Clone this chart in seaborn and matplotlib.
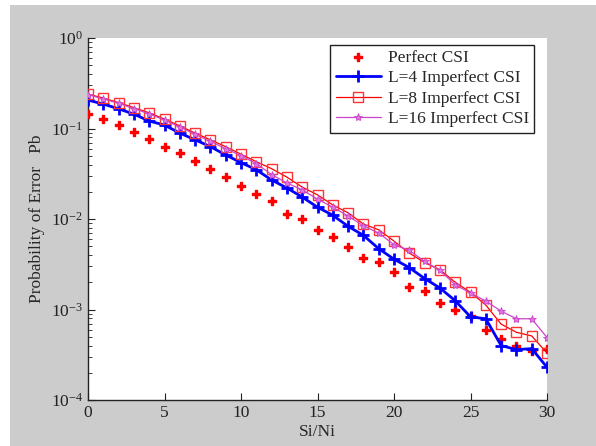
import numpy as np
import pandas as pd
import matplotlib
matplotlib.use("Agg")
import matplotlib.pyplot as plt
from matplotlib.patches import Rectangle
import seaborn as sns

snr = list(range(0, 31))
perfect = [0.145, 0.127, 0.109, 0.091, 0.076, 0.063, 0.054, 0.044, 0.036, 0.029,
           0.023, 0.019, 0.0158, 0.0114, 0.0100, 0.0076, 0.0063, 0.0049, 0.0037, 0.00335,
           0.0026, 0.00178, 0.00160, 0.00117, 0.00098, 0.00085, 0.00059, 0.00047, 0.00040, 0.00035,
           0.00037]
l4 = [0.206, 0.186, 0.165, 0.144, 0.121, 0.109, 0.089, 0.075, 0.063, 0.051,
      0.042, 0.035, 0.027, 0.022, 0.0175, 0.0135, 0.011, 0.0083, 0.0066, 0.0047,
      0.0036, 0.0029, 0.0022, 0.00173, 0.00125, 0.00083, 0.00079, 0.00040, 0.00036, 0.00037,
      0.00023]
l8 = [0.240, 0.217, 0.193, 0.170, 0.149, 0.127, 0.107, 0.089, 0.075, 0.063,
      0.052, 0.043, 0.036, 0.029, 0.0225, 0.0185, 0.0143, 0.0117, 0.0088, 0.0076,
      0.0057, 0.0042, 0.0033, 0.00275, 0.0020, 0.00155, 0.00112, 0.00069, 0.00056, 0.00051,
      0.00033]
l16 = [0.237, 0.212, 0.190, 0.166, 0.145, 0.124, 0.104, 0.086, 0.072, 0.060,
       0.050, 0.041, 0.031, 0.025, 0.021, 0.0166, 0.0135, 0.0108, 0.0084, 0.0070,
       0.0052, 0.0045, 0.0034, 0.0027, 0.00188, 0.00152, 0.00124, 0.00096, 0.00079, 0.00079,
       0.00049]

sns.set_style("ticks")
plt.rcParams['font.family'] = ['Liberation Serif', 'DejaVu Serif']
plt.rcParams['mathtext.fontset'] = 'custom'
plt.rcParams['mathtext.rm'] = 'Liberation Serif'
plt.rcParams['mathtext.it'] = 'Liberation Serif:italic'

fig = plt.figure(figsize=(5.96, 4.46), dpi=100)
fig.patch.set_facecolor('white')
bg = Rectangle((10 / 596, 0), 1 - 10 / 596, (446 - 5) / 446,
               transform=fig.transFigure, facecolor='#cccccc',
               edgecolor='none', zorder=-10)
fig.add_artist(bg)
ax = fig.add_axes([88 / 596, (446 - 400) / 446, (547 - 88) / 596, (400 - 38) / 446])
ax.set_zorder(5)
ax.set_facecolor('white')

sns.scatterplot(x=snr, y=perfect, ax=ax, marker='P', color='#ff0000', s=40,
                edgecolor='#ff0000', linewidth=1.0, label='Perfect CSI', zorder=3)
sns.lineplot(x=snr, y=l4, ax=ax, color='#0000ff', linewidth=2, linestyle='-',
             marker='+', markersize=9, markeredgewidth=2, markeredgecolor='#0000ff',
             label='L=4 Imperfect CSI', zorder=4)
sns.lineplot(x=snr, y=l8, ax=ax, color='#ff0000', linewidth=0.9, linestyle='-',
             marker='s', markersize=7, markerfacecolor='none',
             markeredgecolor='#ff3333', markeredgewidth=1,
             label='L=8 Imperfect CSI', zorder=5)
sns.lineplot(x=snr, y=l16, ax=ax, color='#cc44cc', linewidth=0.9, linestyle='-',
             marker='*', markersize=6, markeredgewidth=0.6, markeredgecolor='#cc44cc',
             markerfacecolor='#dd77dd', label='L=16 Imperfect CSI', zorder=6)

ax.set_yscale('log')
ax.set_xlim(0, 30)
ax.set_ylim(1e-4, 1)
ax.set_xticks([0, 5, 10, 15, 20, 25, 30])
ax.tick_params(axis='both', which='both', direction='in', labelsize=12.5, colors='#222222')
ax.tick_params(axis='both', which='major', length=5)
ax.tick_params(axis='y', which='minor', length=3)
for s in ['top', 'right']:
    ax.spines[s].set_visible(False)
for s in ['left', 'bottom']:
    ax.spines[s].set_color('#222222')
    ax.spines[s].set_linewidth(1)

ax.set_xlabel('Si/Ni', fontsize=12.5, labelpad=2)
ax.set_ylabel('Probability of Error   Pb', fontsize=12.5, labelpad=4)

leg = ax.legend(loc='upper right', bbox_to_anchor=(0.972, 0.982), fontsize=12.5,
                fancybox=False, framealpha=1, edgecolor='#222222',
                borderaxespad=0, handlelength=2.6, labelspacing=0.25,
                borderpad=0.3, handletextpad=0.4)
leg.get_frame().set_linewidth(1)

fig.savefig('out.png', dpi=100, facecolor=fig.get_facecolor())
